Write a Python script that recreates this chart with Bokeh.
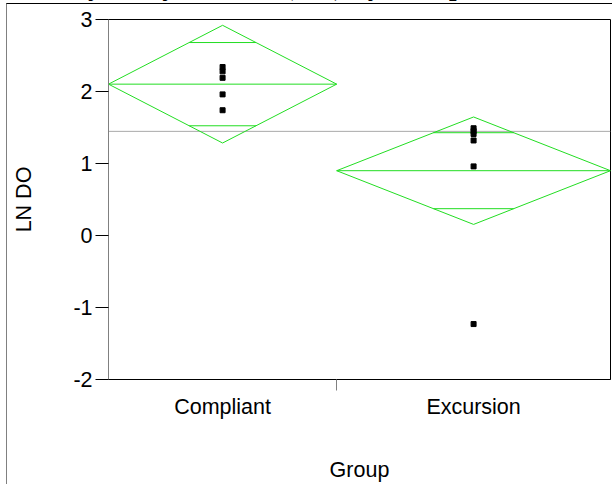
import math
from bokeh.plotting import figure
from bokeh.models import FixedTicker, Range1d, Div
from bokeh.embed import file_html
from bokeh.resources import INLINE

# ---- data ----
groups = ["Compliant", "Excursion"]
compliant_ln_do = [2.34, 2.28, 2.19, 1.96, 1.74]
excursion_ln_do = [1.49, 1.45, 1.41, 1.32, 0.96, -1.23]
y_ticks = [-2, -1, 0, 1, 2, 3]
y_tick_labels = ["-2", "-1", "0", "1", "2", "3"]
t_crit = 2.262  # t(0.975, df=9)
title_text = "Oneway Analysis of LN (DO) By Group"

series = [compliant_ln_do, excursion_ln_do]
counts = [len(s) for s in series]
total_n = sum(counts)
means = [sum(s) / len(s) for s in series]
sse = sum(sum((v - m) ** 2 for v in s) for s, m in zip(series, means))
df = total_n - len(series)
rmse = math.sqrt(sse / df)
grand_mean = sum(sum(s) for s in series) / total_n

# group extents proportional to n
lefts, rights, centers = [], [], []
acc = 0
for n in counts:
    lefts.append(acc)
    rights.append(acc + n)
    centers.append(acc + n / 2)
    acc += n

GREEN = "#22dd22"
FONT = "Liberation Sans"
FS = "21.5px"

p = figure(width=606, height=481, x_range=Range1d(0, total_n), y_range=Range1d(-2, 3),
           output_backend="svg", toolbar_location=None,
           min_border_left=101, min_border_right=3, min_border_top=15, min_border_bottom=106,
           styles={"position": "absolute", "left": "6px", "top": "3px",
                   "border-top": "1px solid #000000", "border-left": "1px solid #808080"})
p.grid.visible = False
p.outline_line_color = "black"
p.background_fill_color = "white"
p.border_fill_color = "white"

# grand mean line
p.line([0, total_n], [grand_mean, grand_mean], line_color="#aaaaaa", line_width=1)

# means diamonds
for m, n, l, r, c in zip(means, counts, lefts, rights, centers):
    ci = t_crit * rmse / math.sqrt(n)
    p.patch([l, c, r, c, l], [m, m + ci, m, m - ci, m], fill_color=None,
            line_color=GREEN, line_width=1)
    p.line([l, r], [m, m], line_color=GREEN, line_width=1)
    ov = ci * math.sqrt(2) / 2
    hw = (r - l) / 2 * (1 - math.sqrt(2) / 2)
    for yy in (m + ov, m - ov):
        p.line([c - hw, c + hw], [yy, yy], line_color=GREEN, line_width=1)

# points
for s, c in zip(series, centers):
    p.scatter([c] * len(s), s, marker="square", size=5, color="black")

# y axis
p.yaxis.ticker = FixedTicker(ticks=y_ticks)
p.yaxis.major_label_overrides = dict(zip(y_ticks, y_tick_labels))
p.yaxis.minor_tick_line_color = None
p.yaxis.major_tick_out = 13
p.yaxis.major_tick_in = 0
p.yaxis.major_tick_line_color = "black"
p.yaxis.axis_line_color = "#808080"
p.yaxis.major_label_standoff = 3
p.yaxis.major_label_text_font = FONT
p.yaxis.major_label_text_font_size = FS
p.yaxis.major_label_text_color = "black"
p.yaxis.axis_label = "LN DO"
p.yaxis.axis_label_text_font = FONT
p.yaxis.axis_label_text_font_size = FS
p.yaxis.axis_label_text_font_style = "normal"
p.yaxis.axis_label_text_color = "black"
p.yaxis.axis_label_standoff = 34

# x axis
p.xaxis.ticker = FixedTicker(ticks=centers, minor_ticks=[rights[0]])
p.xaxis.major_label_overrides = {centers[0]: groups[0], centers[1]: groups[1]}
p.xaxis.major_tick_line_color = None
p.xaxis.major_tick_out = 0
p.xaxis.major_tick_in = 0
p.xaxis.minor_tick_out = 11
p.xaxis.minor_tick_in = 0
p.xaxis.minor_tick_line_color = "#808080"
p.xaxis.axis_line_color = "black"
p.xaxis.major_label_standoff = 4
p.xaxis.major_label_text_font = FONT
p.xaxis.major_label_text_font_size = FS
p.xaxis.major_label_text_color = "black"
p.xaxis.axis_label = "Group"
p.xaxis.axis_label_text_font = FONT
p.xaxis.axis_label_text_font_size = FS
p.xaxis.axis_label_text_font_style = "normal"
p.xaxis.axis_label_text_color = "black"
p.xaxis.axis_label_standoff = 36

title = Div(text=title_text, width=600, height=30,
            styles={"position": "absolute", "left": "2px", "top": "-34px",
                    "font-family": "Liberation Serif", "font-weight": "bold",
                    "font-size": "27px", "line-height": "30px", "white-space": "nowrap",
                    "color": "black"})

open("out.html", "w").write(file_html([title, p], INLINE))
